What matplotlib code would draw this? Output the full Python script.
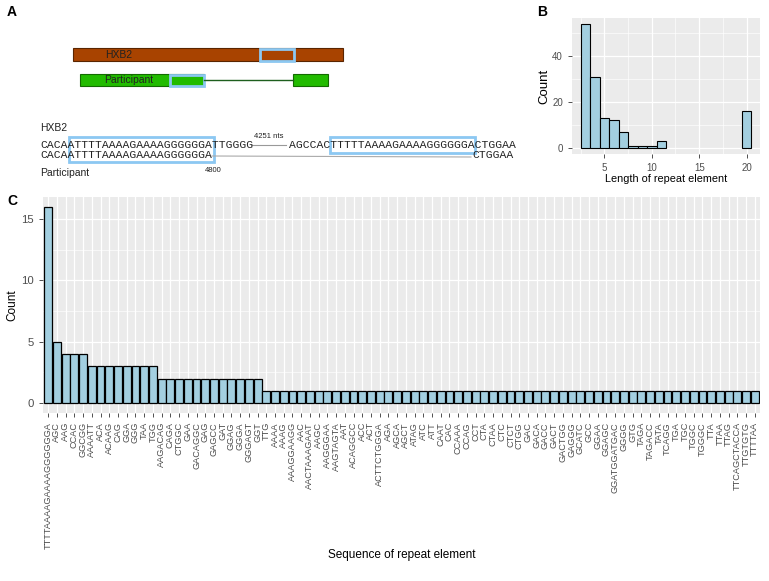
import matplotlib.pyplot as plt
from matplotlib.patches import Rectangle

plt.rcParams['font.family'] = ['Liberation Sans', 'DejaVu Sans']

# panel B: length of repeat element (histogram, binwidth 1)
lengths = [3, 4, 5, 6, 7, 8, 9, 10, 11, 20]
length_counts = [54, 31, 13, 12, 7, 1, 1, 1, 3, 16]

# panel C: count per repeat sequence
sequences = [
    "TTTTAAAAGAAAAGGGGGGA", "AGC", "AAG", "CCAC", "GGCGG",
    "AAAATT", "ACA", "ACAAG", "CAG", "GGA", "GGG", "TAA", "TGG",
    "AAGACAG", "CAGA", "CTGGC", "GAA", "GACAGGC", "GAG", "GAGCC", "GAT",
    "GGAG", "GGGA", "GGGAGT", "GGT",
    "TTG", "AAAA", "AAAG", "AAAGGAAGG", "AAC", "AACTAAAGAAT", "AAGC",
    "AAGGGAA", "AAGTAGTA", "AAT", "ACAGGCC", "ACC", "ACT", "ACTTCTGGGA",
    "AGA", "AGCA", "AGCT", "ATAG", "ATC", "ATT", "CAAT", "CAC", "CCAAA",
    "CCAG", "CCT", "CTA", "CTAA", "CTC", "CTCT", "CTGG", "GAC", "GACA",
    "GACC", "GACT", "GACTGG", "GAGGG", "GCATC", "GCC", "GGAA", "GGAGC",
    "GGATGGATGAC", "GGGG", "GTG", "TAGA", "TAGACC", "TATA", "TCAGG", "TGA",
    "TGC", "TGGC", "TGGGC", "TTA", "TTAA", "TTAG", "TTCAGCTACCA", "TTGTGTG",
    "TTTTAA",
]
seq_counts = [
    16, 5, 4, 4, 4,
    3, 3, 3, 3, 3, 3, 3, 3,
    2, 2, 2, 2, 2, 2, 2, 2, 2, 2, 2, 2,
    1, 1, 1, 1, 1, 1, 1, 1, 1, 1, 1, 1, 1, 1, 1, 1, 1, 1, 1, 1,
    1, 1, 1, 1, 1, 1, 1, 1, 1, 1, 1, 1, 1, 1, 1, 1, 1, 1, 1, 1,
    1, 1, 1, 1, 1, 1, 1, 1, 1, 1, 1, 1, 1, 1, 1, 1, 1,
]

# panel A sequence alignment text
hxb2_left = "CACAATTTTAAAAGAAAAGGGGGGATTGGGG"
hxb2_right = "AGCCACTTTTTAAAAGAAAAGGGGGGACTGGAA"
part_left = "CACAATTTTAAAAGAAAAGGGGGGA"
part_right = "CTGGAA"

BAR_FILL = "#A3CFE0"
PANEL_BG = "#EBEBEB"
TICK_TXT = "#4D4D4D"
BOX_BLUE = "#8CC8F2"


def gg_style(ax):
    ax.set_facecolor(PANEL_BG)
    for s in ax.spines.values():
        s.set_visible(False)
    ax.tick_params(length=3, width=0.6, color="#333333", labelcolor=TICK_TXT)
    ax.set_axisbelow(True)


fig = plt.figure(figsize=(7.69, 5.81), dpi=100)

# ---- panel A: schematic drawn in pixel coordinates
axA = fig.add_axes([0, 0, 1, 1], zorder=0)
axA.set_xlim(0, 769)
axA.set_ylim(581, 0)
axA.axis("off")

axA.add_patch(Rectangle((73, 48), 270, 13, fc="#A84300", ec="#5A2500", lw=0.8))
axA.add_patch(Rectangle((260, 49), 34, 11.5, fc="none", ec=BOX_BLUE, lw=2))
axA.text(105, 55, "HXB2", fontsize=7.5, va="center", color="#222222")

axA.plot([204, 293], [80, 80], color="#1E5E1E", lw=1)
axA.add_patch(Rectangle((80, 74), 124, 12, fc="#22BB00", ec="#136B00", lw=0.8))
axA.add_patch(Rectangle((293, 74), 35, 12, fc="#22BB00", ec="#136B00", lw=0.8))
axA.add_patch(Rectangle((170, 74.5), 34, 11.5, fc="none", ec=BOX_BLUE, lw=2))
axA.text(104, 80, "Participant", fontsize=7.5, va="center", color="#222222")

mono = dict(family="Liberation Mono", fontsize=8.16, va="center", color="#222222")
axA.text(40, 128, "HXB2", fontsize=7.5, va="center", color="#222222")
axA.text(40, 145, hxb2_left, **mono)
axA.text(289, 145, hxb2_right, **mono)
axA.text(40, 155.5, part_left, **mono)
axA.text(472.5, 155.5, part_right, **mono)
axA.text(40, 173, "Participant", fontsize=7.5, va="center", color="#222222")
axA.plot([252, 286], [145, 145], color="#999999", lw=0.8)
axA.plot([212, 471], [156, 157], color="#AAAAAA", lw=0.8)
axA.text(269, 136, "4251 nts", fontsize=5.5, ha="center", va="center", color="#222222")
axA.text(213, 170, "4800", fontsize=5.5, ha="center", va="center", color="#222222")
axA.add_patch(Rectangle((69, 137), 145, 25, fc="none", ec=BOX_BLUE, lw=2))
axA.add_patch(Rectangle((330, 137), 145, 16, fc="none", ec=BOX_BLUE, lw=2))

axA.text(7, 12, "A", fontsize=10, fontweight="bold", va="center")
axA.text(537, 12, "B", fontsize=10, fontweight="bold", va="center")
axA.text(7, 201, "C", fontsize=10, fontweight="bold", va="center")

# ---- panel B: histogram
axB = fig.add_axes([572 / 769, 1 - 154 / 581, 188 / 769, 136 / 581], zorder=2)
gg_style(axB)
axB.bar(lengths, length_counts, width=1, color=BAR_FILL, edgecolor="black", lw=0.8)
axB.set_xlim(1.6, 21.4)
axB.set_ylim(-2.7, 56.7)
axB.set_xticks([5, 10, 15, 20])
axB.set_yticks([0, 20, 40])
axB.set_xticks([2.5, 7.5, 12.5, 17.5], minor=True)
axB.set_yticks([10, 30, 50], minor=True)
axB.tick_params(which="minor", length=0)
axB.grid(which="major", color="white", lw=0.9)
axB.grid(which="minor", color="white", lw=0.45)
axB.tick_params(labelsize=7)
axB.set_xlabel("Length of repeat element", fontsize=7.8, labelpad=1)
axB.set_ylabel("Count", fontsize=9.5, labelpad=1)

# ---- panel C: counts per sequence
axC = fig.add_axes([43 / 769, 1 - 413 / 581, 717 / 769, 216 / 581], zorder=2)
gg_style(axC)
xpos = list(range(len(sequences)))
axC.bar(xpos, seq_counts, width=0.9, color=BAR_FILL, edgecolor="black", lw=0.9)
axC.set_xlim(-0.6, len(sequences) - 0.4)
axC.set_ylim(-0.8, 16.8)
axC.set_xticks(xpos)
axC.set_xticklabels(sequences, rotation=90, fontsize=6.6)
axC.set_yticks([0, 5, 10, 15])
axC.set_yticks([2.5, 7.5, 12.5], minor=True)
axC.tick_params(which="minor", length=0)
axC.tick_params(axis="y", labelsize=8.2)
axC.grid(which="major", color="white", lw=0.9)
axC.grid(which="minor", axis="y", color="white", lw=0.45)
axC.set_xlabel("Sequence of repeat element", fontsize=8.5, labelpad=0)
axC.set_ylabel("Count", fontsize=8.5, labelpad=2)

fig.savefig("out.png", dpi=100)
